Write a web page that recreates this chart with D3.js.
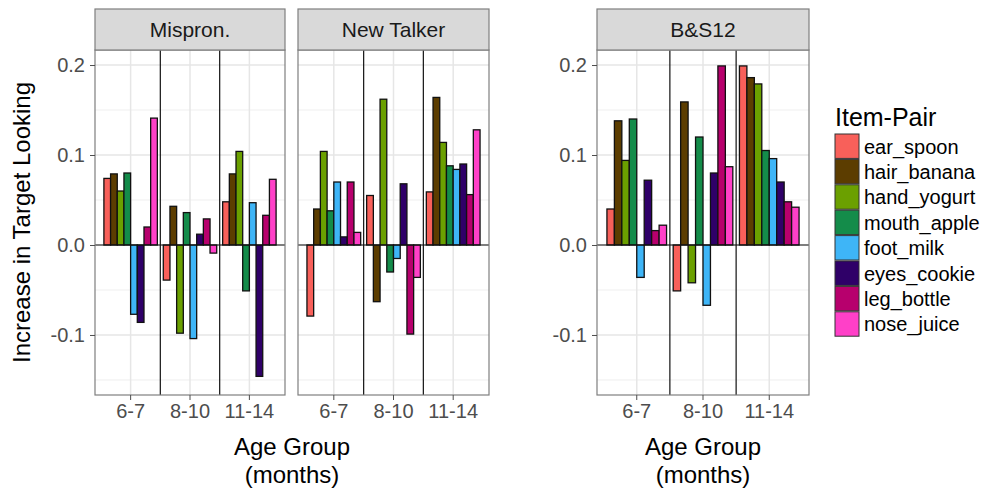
<!DOCTYPE html>
<html>
<head>
<meta charset="utf-8">
<script src="https://cdn.jsdelivr.net/npm/d3@7"></script>
<style>
  body { margin: 0; background: #fff; }
  text { font-family: "Liberation Sans", Arial, Helvetica, sans-serif; }
</style>
</head>
<body>
<svg id="chart" width="987" height="489"></svg>
<script>
// data
var ages = ["6-7", "8-10", "11-14"];
var items = ["ear_spoon", "hair_banana", "hand_yogurt", "mouth_apple",
             "foot_milk", "eyes_cookie", "leg_bottle", "nose_juice"];
var colors = ["#F8605A", "#5C3D00", "#6BA000", "#148C4A",
              "#3EB5F7", "#2F0068", "#B7006D", "#FF40C8"];
var panelNames = ["Mispron.", "New Talker", "B&S12"];

var misprValues = [
  [0.074, 0.079, 0.060, 0.080, -0.077, -0.086, 0.020, 0.141],
  [-0.039, 0.043, -0.098, 0.036, -0.104, 0.012, 0.029, -0.009],
  [0.048, 0.079, 0.104, -0.051, 0.047, -0.146, 0.033, 0.073]
];
var newTalkerValues = [
  [-0.079, 0.040, 0.104, 0.038, 0.070, 0.009, 0.070, 0.014],
  [0.055, -0.063, 0.162, -0.030, -0.015, 0.068, -0.099, -0.036],
  [0.059, 0.164, 0.114, 0.088, 0.084, 0.090, 0.056, 0.128]
];
var bs12Values = [
  [0.040, 0.138, 0.094, 0.140, -0.036, 0.072, 0.016, 0.022],
  [-0.051, 0.159, -0.042, 0.120, -0.067, 0.080, 0.199, 0.087],
  [0.199, 0.186, 0.179, 0.105, 0.096, 0.070, 0.048, 0.042]
];
var yTicks = [-0.1, 0.0, 0.1, 0.2];
var yMinor = [-0.15, -0.05, 0.05, 0.15];

var svg = d3.select("#chart");

var plotTop = 50, plotBottom = 395, stripH = 41;
var y = d3.scaleLinear().domain([-0.1667, 0.2167]).range([plotBottom, plotTop]);
var color = d3.scaleOrdinal().domain(items).range(colors);

var panels = [
  {name: panelNames[0], values: misprValues, x0: 95, x1: 285, yLabels: true},
  {name: panelNames[1], values: newTalkerValues, x0: 298, x1: 489, yLabels: false},
  {name: panelNames[2], values: bs12Values, x0: 597, x1: 809, yLabels: true}
];

panels.forEach(function (p) {
  var g = svg.append("g");
  var x = d3.scaleBand().domain(ages).range([p.x0, p.x1])
    .paddingInner(0.1).paddingOuter(0.15);
  var xi = d3.scaleBand().domain(items).range([0, x.bandwidth()]);
  var centre = function (a) { return x(a) + x.bandwidth() / 2; };

  // background + grid
  g.append("rect").attr("x", p.x0).attr("y", plotTop)
    .attr("width", p.x1 - p.x0).attr("height", plotBottom - plotTop).attr("fill", "#fff");
  g.selectAll(".minor").data(yMinor).enter().append("line")
    .attr("x1", p.x0).attr("x2", p.x1)
    .attr("y1", function (d) { return y(d); }).attr("y2", function (d) { return y(d); })
    .attr("stroke", "#EFEFEF").attr("stroke-width", 1);
  g.selectAll(".major").data(yTicks).enter().append("line")
    .attr("x1", p.x0).attr("x2", p.x1)
    .attr("y1", function (d) { return y(d); }).attr("y2", function (d) { return y(d); })
    .attr("stroke", "#E6E6E6").attr("stroke-width", 1.5);
  g.selectAll(".vgrid").data(ages).enter().append("line")
    .attr("x1", centre).attr("x2", centre)
    .attr("y1", plotTop).attr("y2", plotBottom)
    .attr("stroke", "#E6E6E6").attr("stroke-width", 1.5);

  // bars
  p.values.forEach(function (row, gi) {
    g.selectAll(".bar" + gi).data(row).enter().append("rect")
      .attr("x", function (d, i) { return x(ages[gi]) + xi(items[i]); })
      .attr("width", xi.bandwidth())
      .attr("y", function (d) { return y(Math.max(0, d)); })
      .attr("height", function (d) { return Math.abs(y(d) - y(0)); })
      .attr("fill", function (d, i) { return color(items[i]); })
      .attr("stroke", "#111").attr("stroke-width", 1.3);
  });

  // zero line and group separators
  g.append("line").attr("x1", p.x0).attr("x2", p.x1)
    .attr("y1", y(0)).attr("y2", y(0)).attr("stroke", "#111").attr("stroke-width", 1.2);
  for (var k = 0; k < ages.length - 1; k++) {
    var sx = (centre(ages[k]) + centre(ages[k + 1])) / 2;
    g.append("line").attr("x1", sx).attr("x2", sx)
      .attr("y1", plotTop).attr("y2", plotBottom).attr("stroke", "#111").attr("stroke-width", 1.2);
  }

  // border
  g.append("rect").attr("x", p.x0).attr("y", plotTop)
    .attr("width", p.x1 - p.x0).attr("height", plotBottom - plotTop)
    .attr("fill", "none").attr("stroke", "#7F7F7F").attr("stroke-width", 1.2);

  // strip
  g.append("rect").attr("x", p.x0).attr("y", plotTop - stripH)
    .attr("width", p.x1 - p.x0).attr("height", stripH)
    .attr("fill", "#D9D9D9").attr("stroke", "#7F7F7F").attr("stroke-width", 1.2);
  g.append("text").attr("x", (p.x0 + p.x1) / 2).attr("y", plotTop - stripH / 2 + 7.5)
    .attr("text-anchor", "middle").attr("font-size", 21).attr("fill", "#1A1A1A")
    .text(p.name);

  // x axis
  var xa = g.append("g").attr("transform", "translate(0," + plotBottom + ")")
    .call(d3.axisBottom(x).tickSize(5).tickPadding(4));
  xa.select(".domain").remove();
  xa.selectAll("line").attr("stroke", "#4D4D4D");
  xa.selectAll("text").attr("font-size", 20).attr("fill", "#4D4D4D")
    .attr("font-family", "Liberation Sans, Arial, sans-serif");

  // y axis
  if (p.yLabels) {
    var ya = g.append("g").attr("transform", "translate(" + p.x0 + ",0)")
      .call(d3.axisLeft(y).tickValues(yTicks).tickSize(5).tickPadding(5)
        .tickFormat(function (d) { return d.toFixed(1); }));
    ya.select(".domain").remove();
    ya.selectAll("line").attr("stroke", "#4D4D4D");
    ya.selectAll("text").attr("font-size", 20).attr("fill", "#4D4D4D")
      .attr("font-family", "Liberation Sans, Arial, sans-serif");
  }
});

// axis titles
svg.append("text").attr("transform", "translate(30," + ((plotTop + plotBottom) / 2) + ") rotate(-90)")
  .attr("text-anchor", "middle").attr("font-size", 24).attr("fill", "#000")
  .text("Increase in Target Looking");
[[95, 489], [597, 809]].forEach(function (r) {
  var cx = (r[0] + r[1]) / 2;
  svg.append("text").attr("x", cx).attr("y", 455).attr("text-anchor", "middle")
    .attr("font-size", 24).attr("fill", "#000").text("Age Group");
  svg.append("text").attr("x", cx).attr("y", 483).attr("text-anchor", "middle")
    .attr("font-size", 24).attr("fill", "#000").text("(months)");
});

// legend
var lg = svg.append("g").attr("transform", "translate(835,0)");
lg.append("text").attr("x", 0).attr("y", 126).attr("font-size", 25).attr("fill", "#000")
  .text("Item-Pair");
var rowH = 25.4;
var rows = lg.selectAll(".key").data(items).enter().append("g")
  .attr("transform", function (d, i) { return "translate(0," + (134 + i * rowH) + ")"; });
rows.append("rect").attr("width", 24).attr("height", rowH - 1)
  .attr("fill", function (d) { return color(d); })
  .attr("stroke", "#333").attr("stroke-width", 1);
rows.append("text").attr("x", 29).attr("y", rowH / 2 + 7).attr("font-size", 20)
  .attr("fill", "#000").text(function (d) { return d; });
</script>
</body>
</html>
